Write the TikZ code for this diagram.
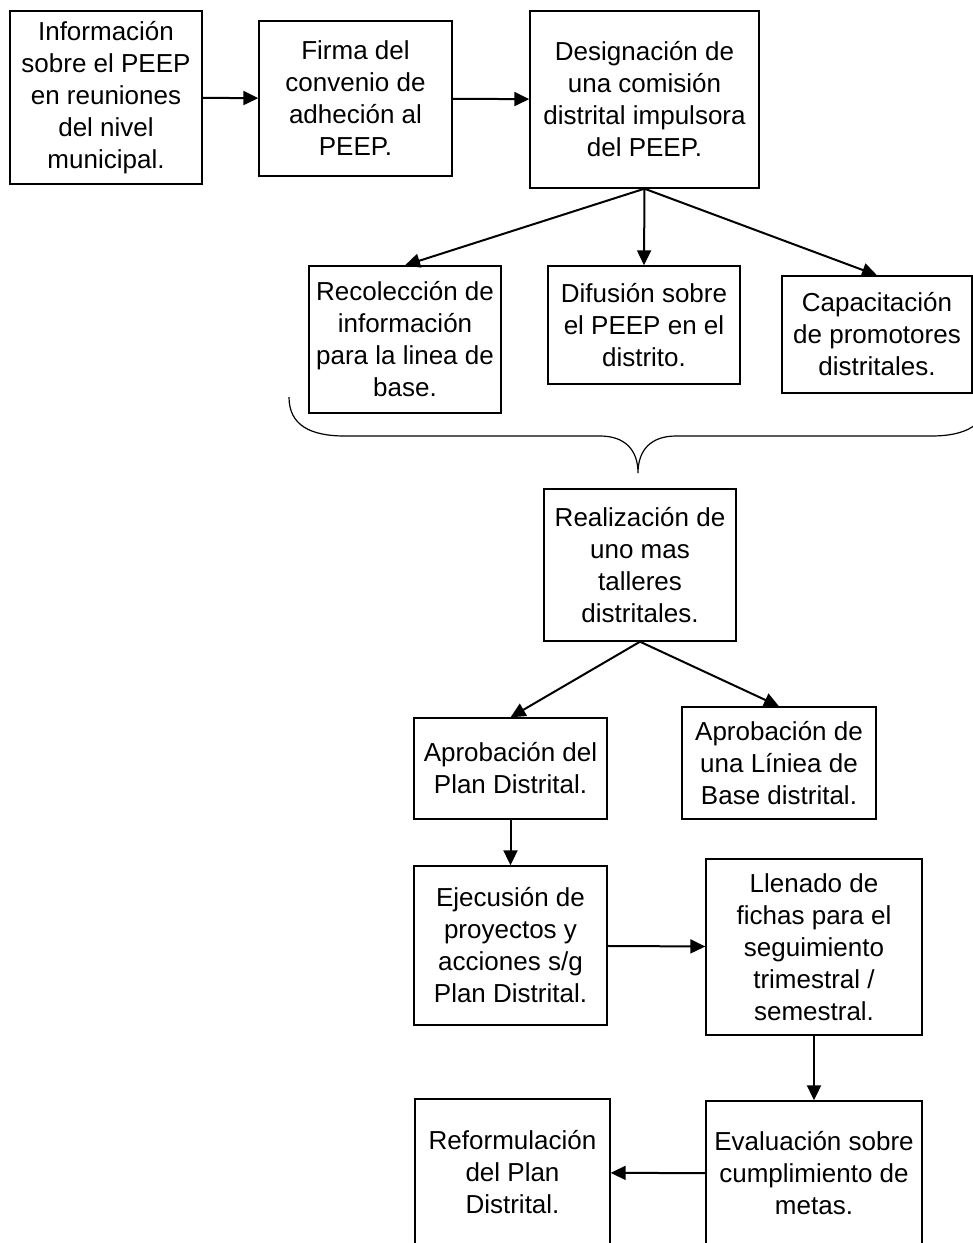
\documentclass[tikz,border=0pt]{standalone}
\usepackage{fontspec}
\setmainfont{Liberation Sans}
\usepackage{tikz}
\usetikzlibrary{arrows.meta}

\begin{document}
\begin{tikzpicture}[x=0.5pt, y=-0.5pt, >={Triangle[length=7.5pt,width=7pt]},
  box/.style={draw, line width=0.7pt, inner sep=0pt, align=center,
    font=\fontsize{13}{16}\selectfont},
  flow/.style={->, line width=1pt}]
\clip (0,0) rectangle (973,1243);
\node[box,minimum width=96pt,minimum height=86.5pt] (info) at (106,97.5) {Información\\sobre el PEEP\\en reuniones\\del nivel\\municipal.};
\node[box,minimum width=96.5pt,minimum height=77.5pt] (firma) at (355.5,98.5) {Firma del\\convenio de\\adheción al\\PEEP.};
\node[box,minimum width=114.5pt,minimum height=88.5pt] (desig) at (644.5,99.5) {Designación de\\una comisión\\distrital impulsora\\del PEEP.};
\node[box,minimum width=96pt,minimum height=73.5pt] (recol) at (405,339.5) {Recolección de\\información\\para la linea de\\base.};
\node[box,minimum width=96pt,minimum height=59pt] (difus) at (644,325) {Difusión sobre\\el PEEP en el\\distrito.};
\node[box,minimum width=95pt,minimum height=58.5pt] (capac) at (877,334.5) {Capacitación\\de promotores\\distritales.};
\node[box,minimum width=96pt,minimum height=76pt] (taller) at (640,565) {Realización de\\uno mas\\talleres\\distritales.};
\node[box,minimum width=96.5pt,minimum height=50.5pt] (aplan) at (510.5,768.5) {Aprobación del\\Plan Distrital.};
\node[box,minimum width=97pt,minimum height=56pt] (alinea) at (779,763) {Aprobación de\\una Líniea de\\Base distrital.};
\node[box,minimum width=96.5pt,minimum height=79.5pt] (ejec) at (510.5,945.5) {Ejecusión de\\proyectos y\\acciones s/g\\Plan Distrital.};
\node[box,minimum width=108pt,minimum height=88pt] (fichas) at (814,947) {Llenado de\\fichas para el\\seguimiento\\trimestral /\\semestral.};
\node[box,minimum width=108pt,minimum height=72.5pt] (eval) at (814,1173.5) {Evaluación sobre\\cumplimiento de\\metas.};
\node[box,minimum width=97.5pt,minimum height=73.5pt] (reform) at (512.5,1172.5) {Reformulación\\del Plan\\Distrital.};
% top row
\draw[flow] (info) -- (firma);
\draw[flow] (firma) -- (desig);
\draw[flow] (desig.south) -- (recol.north);
\draw[flow] (desig.south) -- (difus.north);
\draw[flow] (desig.south) -- (capac.north);
% brace
\draw[line width=0.6pt] (289,397) .. controls (289,425) and (310,436) .. (345,436) -- (600,436)
  .. controls (625,436) and (638,450) .. (638,473)
  .. controls (638,450) and (651,436) .. (676,436) -- (931,436)
  .. controls (966,436) and (987,425) .. (987,397);
\draw[flow] (taller.south) -- (aplan.north);
\draw[flow] (taller.south) -- (alinea.north);
\draw[flow] (aplan) -- (ejec);
\draw[flow] (ejec) -- (fichas);
\draw[flow] (fichas) -- (eval);
\draw[flow] (eval) -- (reform);
\end{tikzpicture}
\end{document}
